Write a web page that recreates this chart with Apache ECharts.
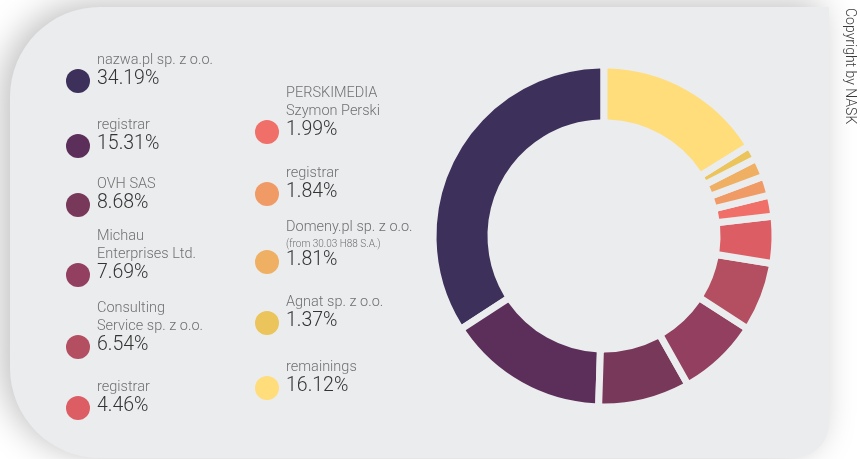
<!DOCTYPE html>
<html>
<head>
<meta charset="utf-8">
<script src="https://cdn.jsdelivr.net/npm/echarts@6/dist/echarts.min.js"></script>
<style>
    html, body { margin: 0; padding: 0; background: #fff; }
    #chart { width: 860px; height: 459px; }
</style>
</head>
<body>
<div id="chart"></div>
<script>
    // registrar shares (order = legend order, pie goes counter-clockwise from 12 o'clock)
    var names = [
        'nazwa.pl sp. z o.o.',
        'registrar',
        'OVH SAS',
        'Michau\nEnterprises Ltd.',
        'Consulting\nService sp. z o.o.',
        'registrar',
        'PERSKIMEDIA\nSzymon Perski',
        'registrar',
        'Domeny.pl sp. z o.o.',
        'Agnat sp. z o.o.',
        'remainings'
    ];
    var notes = ['', '', '', '', '', '', '', '', '(from 30.03 H88 S.A.)', '', ''];
    var shares = [34.19, 15.31, 8.68, 7.69, 6.54, 4.46, 1.99, 1.84, 1.81, 1.37, 16.12];
    var colors = ['#3d305b', '#5c2f5a', '#78385a', '#933f5f', '#b34f60', '#dd5d65',
                  '#f06f68', '#f09a65', '#efb063', '#ebc55b', '#ffdd7b'];

    var panelColor = '#ebecee';
    var legendX = [78, 78, 78, 78, 78, 78, 267, 267, 267, 267, 267];
    var legendY = [81, 146, 205, 275, 347, 408, 132, 194, 262, 323, 388];

    var chart = echarts.init(document.getElementById('chart'));

    var graphics = [{
        type: 'rect',
        z: -10,
        shape: { x: 10, y: 7, width: 819, height: 451, r: [90, 0, 35, 90] },
        style: {
            fill: panelColor,
            shadowBlur: 34,
            shadowColor: 'rgba(0,0,0,0.25)',
            shadowOffsetX: -8,
            shadowOffsetY: -4
        },
        silent: true
    }, {
        type: 'text',
        x: 842,
        y: 8,
        rotation: -Math.PI / 2,
        style: {
            text: 'Copyright by NASK',
            font: '300 14px Roboto',
            fill: '#3a3a3a',
            textVerticalAlign: 'bottom'
        }
    }];

    shares.forEach(function (v, i) {
        var cx = legendX[i], cy = legendY[i];
        graphics.push({
            type: 'circle',
            shape: { cx: cx, cy: cy, r: 12 },
            style: { fill: colors[i] }
        });
        // value
        graphics.push({
            type: 'text',
            x: cx + 19,
            y: cy + 8,
            style: {
                text: v.toFixed(2) + '%',
                font: '300 19.5px Roboto',
                fill: '#333',
                textVerticalAlign: 'bottom'
            }
        });
        // label lines above value
        var lines = names[i].split('\n');
        var y = cy - 13;
        if (notes[i]) {
            graphics.push({
                type: 'text',
                x: cx + 19,
                y: y,
                style: {
                    text: notes[i],
                    font: '300 10px Roboto',
                    fill: '#707070',
                    textVerticalAlign: 'bottom'
                }
            });
            y -= 14;
        }
        for (var k = lines.length - 1; k >= 0; k--) {
            graphics.push({
                type: 'text',
                x: cx + 19,
                y: y,
                style: {
                    text: lines[k],
                    font: '300 14.5px Roboto',
                    fill: '#707070',
                    textVerticalAlign: 'bottom'
                }
            });
            y -= 18;
        }
    });

    chart.setOption({
        animation: false,
        graphic: graphics,
        series: [{
            type: 'pie',
            center: [604, 236],
            radius: [113, 171],
            startAngle: 90,
            clockwise: false,
            silent: true,
            label: { show: false },
            labelLine: { show: false },
            itemStyle: {
                borderColor: panelColor,
                borderWidth: 7,
                borderRadius: 4
            },
            data: shares.map(function (v, i) {
                return { name: names[i], value: v, itemStyle: { color: colors[i] } };
            })
        }]
    });
</script>
</body>
</html>
